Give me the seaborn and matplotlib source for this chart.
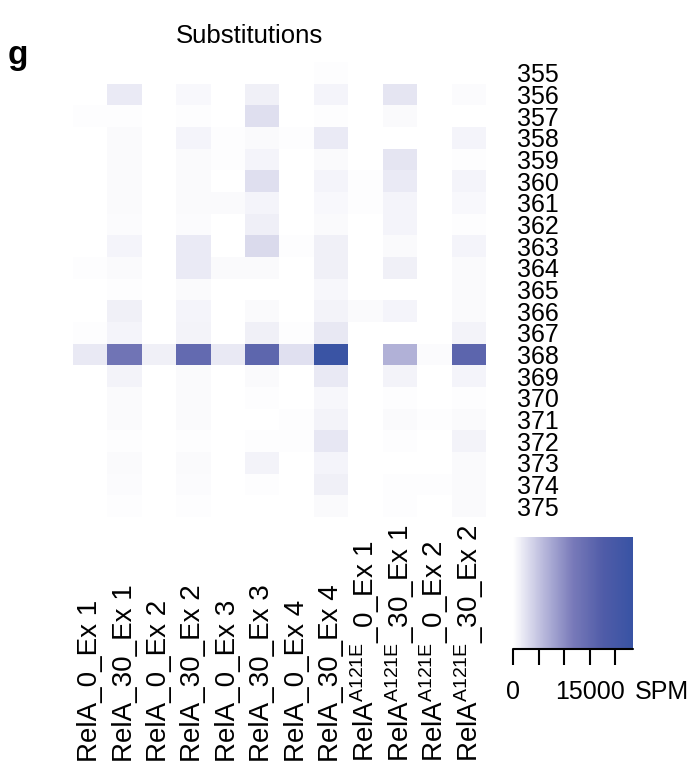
import numpy as np
import pandas as pd
import matplotlib
matplotlib.use("Agg")
import matplotlib.pyplot as plt
import matplotlib.transforms as mtransforms
from matplotlib.colors import LinearSegmentedColormap
import seaborn as sns

# ---------------- data ----------------
columns = [
    "RelA_0_Ex 1", "RelA_30_Ex 1", "RelA_0_Ex 2", "RelA_30_Ex 2",
    "RelA_0_Ex 3", "RelA_30_Ex 3", "RelA_0_Ex 4", "RelA_30_Ex 4",
    "RelA$^{\\mathrm{A121E}}$_0_Ex 1", "RelA$^{\\mathrm{A121E}}$_30_Ex 1",
    "RelA$^{\\mathrm{A121E}}$_0_Ex 2", "RelA$^{\\mathrm{A121E}}$_30_Ex 2",
]
positions = [str(p) for p in range(355, 376)]

values = [
    [0, 0, 0, 0, 0, 0, 0, 250, 0, 0, 0, 0],                       # 355
    [0, 1750, 0, 600, 0, 1300, 0, 1000, 0, 2250, 0, 450],          # 356
    [250, 250, 0, 250, 0, 2750, 0, 250, 0, 550, 0, 0],             # 357
    [0, 550, 0, 950, 250, 550, 250, 1750, 0, 0, 0, 950],           # 358
    [0, 550, 0, 550, 250, 1000, 0, 550, 0, 2250, 0, 250],          # 359
    [0, 500, 0, 500, 0, 2700, 0, 950, 250, 1750, 0, 950],          # 360
    [0, 500, 0, 500, 500, 1000, 0, 600, 250, 950, 0, 600],         # 361
    [0, 400, 0, 400, 0, 1400, 0, 550, 0, 950, 0, 250],             # 362
    [0, 1000, 0, 1800, 0, 3200, 250, 1300, 0, 500, 0, 1000],       # 363
    [250, 550, 0, 1750, 550, 550, 0, 1300, 0, 1300, 0, 550],       # 364
    [0, 250, 0, 500, 0, 0, 0, 650, 0, 0, 0, 500],                  # 365
    [0, 1300, 0, 950, 0, 500, 0, 1100, 500, 950, 0, 500],          # 366
    [250, 950, 0, 1100, 0, 1300, 250, 2000, 0, 0, 0, 1100],        # 367
    [1900, 13000, 1300, 14800, 1900, 15700, 2600, 23000, 0, 6700, 450, 15800],  # 368
    [0, 1100, 0, 500, 0, 500, 0, 1850, 0, 1100, 0, 950],           # 369
    [0, 500, 0, 500, 0, 250, 0, 650, 0, 250, 0, 250],              # 370
    [0, 500, 0, 500, 0, 0, 250, 1100, 0, 500, 250, 500],           # 371
    [0, 250, 0, 250, 0, 250, 250, 2100, 0, 250, 0, 1100],          # 372
    [0, 500, 0, 500, 0, 1100, 0, 950, 0, 0, 0, 500],               # 373
    [0, 400, 0, 400, 0, 250, 0, 1300, 0, 250, 250, 500],           # 374
    [0, 250, 0, 250, 0, 0, 0, 550, 0, 250, 0, 550],                # 375
]
cbar_ticks = [0, 5000, 10000, 15000, 20000]
cbar_ticklabels = ["0", "", "", "15000", ""]
cbar_unit = "SPM"
vmax = 23500
title = "Substitutions"
panel = "g"

# ---------------- style ----------------
sns.set_theme(style="white")
plt.rcParams["font.family"] = ["Liberation Sans", "DejaVu Sans"]
plt.rcParams["mathtext.fontset"] = "custom"
plt.rcParams["mathtext.rm"] = "Liberation Sans"
plt.rcParams["mathtext.it"] = "Liberation Sans:italic"
plt.rcParams["mathtext.bf"] = "Liberation Sans:bold"
for k in ["text.color", "axes.labelcolor", "xtick.color", "ytick.color"]:
    plt.rcParams[k] = "black"

cmap = LinearSegmentedColormap.from_list(
    "wb",
    [(0.0, "#ffffff"), (0.25, "#b9b9dc"), (0.5, "#787ab9"),
     (0.75, "#505ca8"), (1.0, "#3853a4")],
)

df = pd.DataFrame(values, index=positions, columns=range(len(columns)))

W, H = 688, 775
fig = plt.figure(figsize=(W / 100, H / 100), dpi=100)
ax = fig.add_axes([73 / W, 1 - 517 / H, 413 / W, 455 / H])
cax = fig.add_axes([513 / W, 1 - 649 / H, 120 / W, 112 / H])

sns.heatmap(df, ax=ax, cmap=cmap, vmin=0, vmax=vmax, cbar=True, cbar_ax=cax,
            cbar_kws={"orientation": "horizontal"},
            xticklabels=False, yticklabels=positions, linewidths=0)

# row labels on the right
ax.yaxis.tick_right()
ax.tick_params(axis="y", length=0, pad=22, labelsize=18, labelcolor="black")
for lab in ax.get_yticklabels():
    lab.set_rotation(0)
    lab.set_ha("left")
for s in ax.spines.values():
    s.set_visible(False)

# column labels, bottom aligned, rotated
trans = mtransforms.blended_transform_factory(ax.transData, fig.transFigure)
for i, name in enumerate(columns):
    ax.text(i + 0.5, 1 - 762 / H, name, transform=trans, rotation=90,
            ha="center", va="bottom", fontsize=20, color="black")

# colorbar styling
cbar = ax.collections[0].colorbar
cbar.outline.set_visible(False)
cbar.set_ticks(cbar_ticks)
cbar.set_ticklabels(cbar_ticklabels)
cax.xaxis.set_ticks_position("bottom")
tick_len, tick_pad = 11.5, 11
cax.tick_params(axis="x", length=tick_len, width=1.5, direction="out",
                labelsize=18, pad=tick_pad, color="black", labelcolor="black")
cax.axhline(0, color="black", lw=1.5, clip_on=False)
cax.annotate(cbar_unit, xy=(vmax, 0), xycoords=("data", "axes fraction"),
             xytext=(1.5, -(tick_len + tick_pad)), textcoords="offset points",
             ha="left", va="top", fontsize=18, color="black",
             annotation_clip=False)

fig.text(249 / W, 1 - 43 / H, title, ha="center", va="baseline", fontsize=18.5,
         color="black")
fig.text(8 / W, 1 - 64 / H, panel, ha="left", va="baseline", fontsize=24,
         fontweight="bold", color="black")

fig.savefig("out.png", dpi=100)
